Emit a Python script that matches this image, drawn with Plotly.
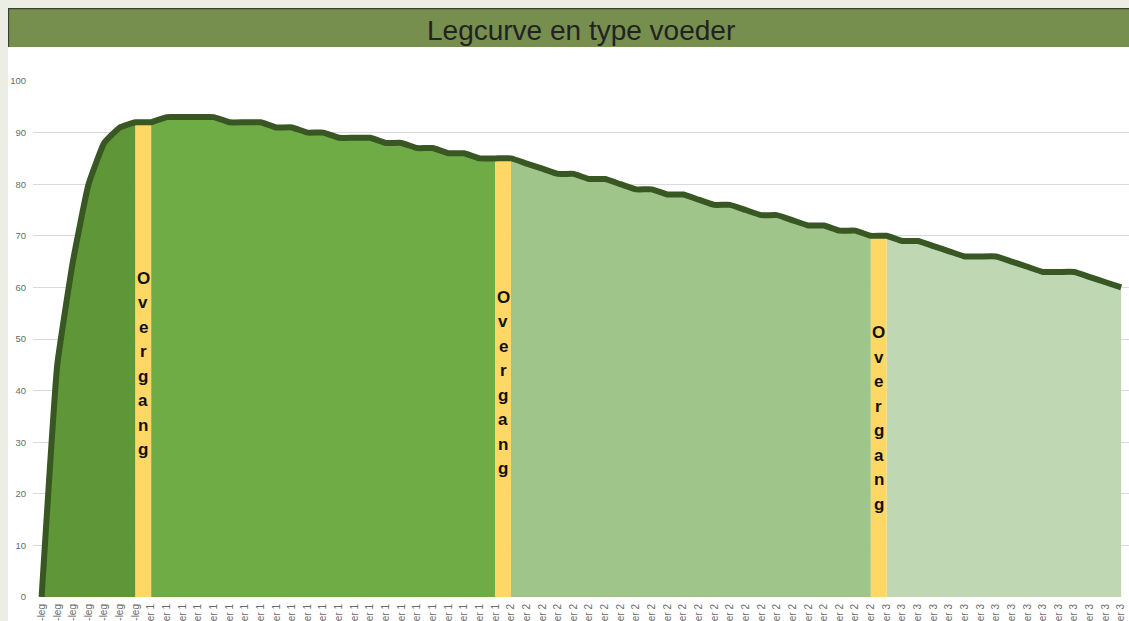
import plotly.graph_objects as go

# ---- data ----
groups = ["Pre-leg", "Voeder 1", "Voeder 2", "Voeder 3"]
group_sizes = [7, 23, 24, 16]
legpercentage = [0, 45, 65, 80, 88, 91, 92,
                 92, 93, 93, 93, 93, 92, 92, 92, 91, 91, 90, 90, 89, 89, 89, 88, 88, 87, 87, 86, 86, 85, 85,
                 85, 84, 83, 82, 82, 81, 81, 80, 79, 79, 78, 78, 77, 76, 76, 75, 74, 74, 73, 72, 72, 71, 71, 70,
                 70, 69, 69, 68, 67, 66, 66, 66, 65, 64, 63, 63, 63, 62, 61, 60]
y_ticks = [0, 10, 20, 30, 40, 50, 60, 70, 80, 90, 100]
transition_word = "Overgang"
title_text = "Legcurve en type voeder"

labels = []
for g, n in zip(groups, group_sizes):
    labels += [g] * n
x_idx = list(range(len(legpercentage)))

group_colors = ["#5E9638", "#6FAC46", "#9FC58B", "#BFD8B3"]
band_color = "#FFD764"
line_color = "#385723"
font_family = "Liberation Sans, Arial, sans-serif"

fig = go.Figure()

# group areas
start = 0
bounds = []
for n, col in zip(group_sizes, group_colors):
    xs = x_idx[start:start + n]
    ys = legpercentage[start:start + n]
    fig.add_trace(go.Scatter(x=xs, y=ys, mode="none", fill="tozeroy",
                             fillcolor=col, hoverinfo="skip", showlegend=False))
    bounds.append((start, start + n - 1))
    start += n

# transition bands (between last of a group and first of next)
band_centers = []
for i in range(len(bounds) - 1):
    a = bounds[i][1]
    b = bounds[i + 1][0]
    fig.add_trace(go.Scatter(x=[x_idx[a], x_idx[b]], y=[legpercentage[a], legpercentage[b]],
                             mode="none", fill="tozeroy", fillcolor=band_color,
                             hoverinfo="skip", showlegend=False))
    band_centers.append((x_idx[a] + x_idx[b]) / 2)

# curve
fig.add_trace(go.Scatter(x=x_idx, y=legpercentage, mode="lines",
                         line=dict(color=line_color, width=6, shape="spline", smoothing=0.35),
                         showlegend=False))

# vertical "Overgang" letters
letter_tops = [61.8, 58.1, 51.2]
step = 4.75
for xc, top in zip(band_centers, letter_tops):
    for k, ch in enumerate(transition_word):
        fig.add_annotation(x=xc, y=top - k * step, xref="x", yref="y", text=ch,
                           showarrow=False,
                           font=dict(family=font_family, size=17, color="#111111", weight="bold"))

# title bar
fig.add_shape(type="rect", xref="paper", yref="paper", x0=-0.05, x1=1.02, y0=1.0659, y1=1.2,
              fillcolor="#768F4F", line=dict(width=0), layer="below")
fig.add_shape(type="line", xref="paper", yref="paper", x0=-0.05, x1=1.02, y0=1.1405, y1=1.1405,
              line=dict(color="#3A3F33", width=1.5), layer="above")
fig.add_shape(type="line", xref="paper", yref="paper", x0=-0.0225, x1=-0.0225, y0=1.0659, y1=1.2,
              line=dict(color="#3A3F33", width=1.5), layer="above")

fig.add_annotation(x=0.5, y=1.097, xref="paper", yref="paper", text=title_text,
                   showarrow=False, xanchor="center", yanchor="middle",
                   font=dict(family=font_family, size=28, color="#222222"))

fig.update_layout(
    width=1121, height=613,
    margin=dict(l=25, r=0, t=73, b=24, autoexpand=False),
    paper_bgcolor="white",
    plot_bgcolor="white",
    showlegend=False,
    xaxis=dict(range=[-0.55, 69.5], tickmode="array", tickvals=x_idx, ticktext=labels,
               tickangle=-90, showgrid=False, zeroline=False, showline=False,
               ticklabelstandoff=4,
               tickfont=dict(family=font_family, size=10, color="#6A6A6A"),
               automargin=False),
    yaxis=dict(range=[0, 100], tickmode="array", tickvals=y_ticks, showgrid=True,
               gridcolor="#DADADA", gridwidth=1, zeroline=False, showline=False,
               ticklabelstandoff=6,
               tickfont=dict(family=font_family, size=9.5, color="#6A6A6A"),
               automargin=False),
)

fig.write_html("out.html",
               post_script="document.body.style.backgroundColor='#ECEEE6';"
                           "document.body.style.margin='8px 0 0 8px';"
                           "document.body.style.overflow='hidden';")
